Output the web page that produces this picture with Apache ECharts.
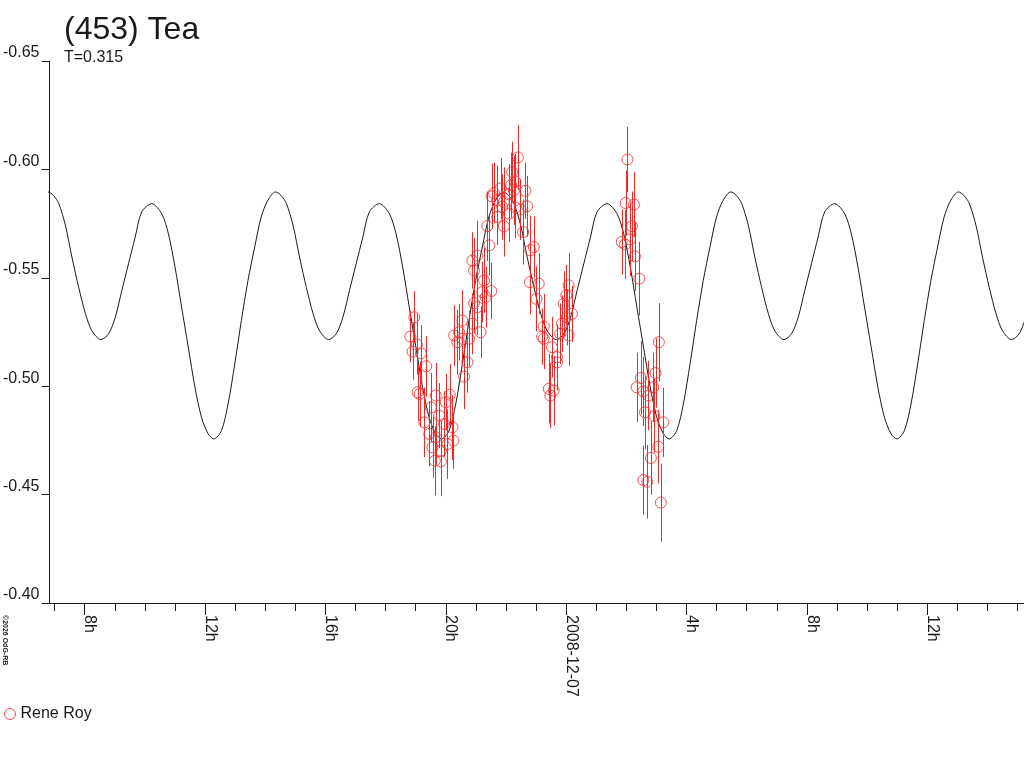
<!DOCTYPE html>
<html>
<head>
<meta charset="utf-8">
<script src="https://cdn.jsdelivr.net/npm/echarts@6/dist/echarts.min.js"></script>
<style>
html,body{margin:0;padding:0;background:#fff;}
#c{width:1024px;height:768px;}
</style>
</head>
<body>
<div id="c"></div>
<script>
// ---- data (hours from 2008-12-06 00:00 UT, relative magnitude) ----
const titleText = '(453) Tea';
const subtitleText = 'T=0.315';
const observerName = 'Rene Roy';
const xMinHour = 6.828;
const xMaxHour = 39.214;
const minorTickHours = [7,8,9,10,11,12,13,14,15,16,17,18,19,20,21,22,23,24,25,26,27,28,29,30,31,32,33,34,35,36,37,38,39];
const majorTickHours = [8,12,16,20,24,28,32,36];
const majorTickLabels = ['8h','12h','16h','20h','2008-12-07','4h','8h','12h'];
const yMin = -0.65, yMax = -0.40, yStep = 0.05;

// fitted lightcurve
const fitCurve = [
[6.477,-0.5873],[6.775,-0.5896],[6.957,-0.5880],[7.139,-0.5842],[7.361,-0.5740],[7.579,-0.5592],[7.801,-0.5455],[8.023,-0.5335],[8.241,-0.5255],[8.539,-0.5215],
[8.794,-0.5242],[9.015,-0.5318],[9.234,-0.5442],[9.455,-0.5565],[9.677,-0.5688],[9.895,-0.5804],[10.226,-0.5842],[10.557,-0.5796],
[10.779,-0.5704],[11.001,-0.5549],[11.219,-0.5365],[11.441,-0.5180],[11.663,-0.4995],[11.881,-0.4856],[12.103,-0.4780],[12.291,-0.4757],
[12.543,-0.4795],[12.764,-0.4918],[12.986,-0.5103],[13.205,-0.5303],[13.426,-0.5488],[13.648,-0.5642],[13.866,-0.5781],[14.088,-0.5858],
[14.340,-0.5896],[14.522,-0.5880],[14.704,-0.5842],[14.926,-0.5740],[15.144,-0.5592],[15.366,-0.5455],[15.588,-0.5335],[15.806,-0.5255],[16.104,-0.5215],
[16.359,-0.5242],[16.580,-0.5318],[16.799,-0.5442],[17.020,-0.5565],[17.242,-0.5688],[17.460,-0.5804],[17.791,-0.5842],[18.122,-0.5796],
[18.344,-0.5704],[18.566,-0.5549],[18.784,-0.5365],[19.006,-0.5180],[19.228,-0.4995],[19.446,-0.4856],[19.668,-0.4780],[19.856,-0.4757],
[20.108,-0.4795],[20.329,-0.4918],[20.551,-0.5103],[20.770,-0.5303],[20.991,-0.5488],[21.213,-0.5642],[21.431,-0.5781],[21.653,-0.5858],
[21.905,-0.5896],[22.087,-0.5880],[22.269,-0.5842],[22.491,-0.5740],[22.709,-0.5592],[22.931,-0.5455],[23.153,-0.5335],[23.371,-0.5255],[23.669,-0.5215],
[23.924,-0.5242],[24.145,-0.5318],[24.364,-0.5442],[24.585,-0.5565],[24.807,-0.5688],[25.025,-0.5804],[25.356,-0.5842],[25.687,-0.5796],
[25.909,-0.5704],[26.131,-0.5549],[26.349,-0.5365],[26.571,-0.5180],[26.793,-0.4995],[27.011,-0.4856],[27.233,-0.4780],[27.421,-0.4757],
[27.673,-0.4795],[27.894,-0.4918],[28.116,-0.5103],[28.335,-0.5303],[28.556,-0.5488],[28.778,-0.5642],[28.996,-0.5781],[29.218,-0.5858],
[29.470,-0.5896],[29.652,-0.5880],[29.834,-0.5842],[30.056,-0.5740],[30.274,-0.5592],[30.496,-0.5455],[30.718,-0.5335],[30.936,-0.5255],[31.234,-0.5215],
[31.489,-0.5242],[31.710,-0.5318],[31.929,-0.5442],[32.150,-0.5565],[32.372,-0.5688],[32.590,-0.5804],[32.921,-0.5842],[33.252,-0.5796],
[33.474,-0.5704],[33.696,-0.5549],[33.914,-0.5365],[34.136,-0.5180],[34.358,-0.4995],[34.576,-0.4856],[34.798,-0.4780],[34.986,-0.4757],
[35.238,-0.4795],[35.459,-0.4918],[35.681,-0.5103],[35.900,-0.5303],[36.121,-0.5488],[36.343,-0.5642],[36.561,-0.5781],[36.783,-0.5858],
[37.035,-0.5896],[37.217,-0.5880],[37.399,-0.5842],[37.621,-0.5740],[37.839,-0.5592],[38.061,-0.5455],[38.283,-0.5335],[38.501,-0.5255],[38.799,-0.5215],
[39.054,-0.5242],[39.275,-0.5318]
];

// observations: [hour, magnitude, error]
const reneRoy = [
[18.820,-0.5229,0.012],[18.896,-0.5160,0.013],[18.952,-0.5318,0.012],[19.038,-0.5192,0.014],[19.062,-0.4972,0.013],
[19.128,-0.4964,0.015],[19.171,-0.5152,0.013],[19.283,-0.4833,0.016],[19.350,-0.5092,0.014],[19.449,-0.4780,0.015],
[19.502,-0.4902,0.016],[19.558,-0.4718,0.014],[19.634,-0.4656,0.016],[19.667,-0.4957,0.015],[19.667,-0.4764,0.013],
[19.780,-0.4864,0.015],[19.833,-0.4702,0.014],[19.833,-0.4653,0.016],[19.945,-0.4826,0.015],[19.998,-0.4926,0.013],
[20.054,-0.4733,0.016],[20.130,-0.4961,0.014],[20.220,-0.4810,0.015],[20.253,-0.4749,0.013],[20.276,-0.5234,0.014],
[20.385,-0.5203,0.015],[20.441,-0.5249,0.013],[20.551,-0.5303,0.014],[20.551,-0.5219,0.012],[20.607,-0.5044,0.015],
[20.716,-0.5110,0.014],[20.772,-0.5219,0.013],[20.882,-0.5288,0.014],[20.882,-0.5580,0.013],[20.938,-0.5534,0.015],
[20.938,-0.5383,0.014],[21.047,-0.5603,0.016],[21.047,-0.5365,0.013],[21.156,-0.5249,0.012],[21.213,-0.5434,0.014],
[21.269,-0.5488,0.015],[21.322,-0.5411,0.014],[21.378,-0.5738,0.016],[21.444,-0.5650,0.014],[21.510,-0.5439,0.013],
[21.520,-0.5876,0.015],[21.600,-0.5891,0.014],[21.709,-0.5858,0.016],[21.709,-0.5781,0.013],[21.818,-0.5912,0.014],
[21.874,-0.5827,0.015],[21.930,-0.5850,0.016],[21.930,-0.5738,0.014],[22.096,-0.5885,0.014],[22.096,-0.5796,0.013],
[22.172,-0.5927,0.015],[22.205,-0.5988,0.014],[22.261,-0.5904,0.016],[22.314,-0.5942,0.013],[22.314,-0.5824,0.014],
[22.394,-0.6055,0.015],[22.480,-0.5815,0.014],[22.569,-0.5711,0.015],[22.645,-0.5901,0.013],[22.701,-0.5830,0.014],
[22.791,-0.5480,0.015],[22.810,-0.5627,0.016],[22.923,-0.5642,0.014],[23.009,-0.5403,0.015],[23.088,-0.5473,0.014],
[23.198,-0.5229,0.013],[23.254,-0.5275,0.015],[23.254,-0.5219,0.014],[23.420,-0.4988,0.016],[23.472,-0.4957,0.015],
[23.529,-0.5180,0.014],[23.585,-0.4980,0.016],[23.694,-0.5134,0.015],[23.694,-0.5110,0.013],[23.803,-0.5242,0.014],
[23.860,-0.5288,0.013],[23.916,-0.5380,0.015],[24.002,-0.5419,0.014],[24.025,-0.5318,0.013],[24.081,-0.5465,0.015],
[24.081,-0.5234,0.014],[24.191,-0.5334,0.013],
[25.845,-0.5665,0.015],[25.954,-0.5654,0.016],[25.977,-0.5845,0.015],[26.034,-0.6046,0.015],[26.120,-0.5677,0.017],
[26.186,-0.5738,0.016],[26.252,-0.5838,0.015],[26.285,-0.5599,0.016],[26.342,-0.4995,0.016],[26.431,-0.5496,0.017],
[26.484,-0.5038,0.017],[26.563,-0.4976,0.016],[26.616,-0.4879,0.017],[26.563,-0.4567,0.016],[26.696,-0.4559,0.017],
[26.729,-0.4957,0.016],[26.815,-0.4669,0.017],[26.894,-0.4995,0.016],[26.927,-0.4864,0.017],[26.970,-0.5061,0.016],
[27.060,-0.4721,0.017],[27.079,-0.5203,0.018],[27.146,-0.4463,0.018],[27.225,-0.4833,0.016]
];

// ---- chart ----
const RED = '#f02828';
const INK = '#1a1a1a';
const FONT = '"Liberation Sans", Arial, sans-serif';

const chart = echarts.init(document.getElementById('c'), null, {renderer: 'canvas'});
chart.setOption({
  animation: false,
  backgroundColor: '#ffffff',
  grid: {left: 45, top: 61, right: 0, bottom: 165, containLabel: false},
  xAxis: [
    {
      type: 'value', min: xMinHour, max: xMaxHour, position: 'bottom',
      axisLine: {show: true, onZero: false, lineStyle: {color: INK, width: 1}},
      axisTick: {show: true, length: 8, customValues: minorTickHours, lineStyle: {color: INK, width: 1}},
      axisLabel: {show: false},
      splitLine: {show: false}
    },
    {
      type: 'value', min: xMinHour, max: xMaxHour, position: 'bottom', offset: 0,
      axisLine: {show: false, onZero: false},
      axisTick: {show: true, length: 12, customValues: majorTickHours, lineStyle: {color: INK, width: 1}},
      axisLabel: {
        show: true, customValues: majorTickHours, rotate: -90, margin: 12,
        verticalAlign: 'bottom', lineHeight: 10,
        color: INK, fontFamily: FONT, fontSize: 16,
        formatter: function (v) {
          const i = majorTickHours.indexOf(Math.round(v));
          return i >= 0 ? majorTickLabels[i] : '';
        }
      },
      splitLine: {show: false}
    }
  ],
  yAxis: {
    type: 'value', min: yMin, max: yMax, interval: yStep, inverse: true,
    axisLine: {show: true, lineStyle: {color: INK, width: 1}},
    axisTick: {show: true, length: 8, lineStyle: {color: INK, width: 1}},
    axisLabel: {
      color: INK, fontFamily: FONT, fontSize: 16, margin: 10,
      verticalAlign: 'bottom', lineHeight: 16,
      formatter: function (v) { return v.toFixed(2); }
    },
    splitLine: {show: false}
  },
  legend: {
    show: true, left: -1, top: 701, orient: 'horizontal',
    itemWidth: 11, itemHeight: 11, itemGap: 10,
    textStyle: {color: INK, fontFamily: FONT, fontSize: 16},
    data: [{name: observerName, icon: 'circle',
            itemStyle: {color: 'rgba(0,0,0,0)', borderColor: RED, borderWidth: 1}}]
  },
  graphic: [
    {type: 'text', left: 64, top: 14, style: {text: titleText, font: '32px ' + FONT, fill: INK}},
    {type: 'text', left: 64, top: 50, style: {text: subtitleText, font: '16px ' + FONT, fill: INK}},
    {type: 'text', x: 8, y: 615, rotation: -Math.PI / 2,
     style: {text: '\u00A92026 OdG-RB', font: 'bold 7px ' + FONT, fill: INK, align: 'left', verticalAlign: 'top'}}
  ],
  series: [
    {
      name: 'fit', type: 'line', xAxisIndex: 0, yAxisIndex: 0,
      data: fitCurve, showSymbol: false, smooth: 0.3, clip: true,
      lineStyle: {color: INK, width: 1}, z: 2, silent: true
    },
    {
      name: 'errors', type: 'custom', xAxisIndex: 0, yAxisIndex: 0,
      data: reneRoy, encode: {x: 0, y: 1}, z: 3, silent: true,
      renderItem: function (params, api) {
        const t = api.value(0), m = api.value(1), e = api.value(2);
        const p1 = api.coord([t, m - e]);
        const p2 = api.coord([t, m + e]);
        const px = Math.round(p1[0]) + 0.5;
        return {type: 'line', shape: {x1: px, y1: p1[1], x2: px, y2: p2[1]},
                style: {stroke: RED, lineWidth: 1}};
      }
    },
    {
      name: observerName, type: 'scatter', xAxisIndex: 0, yAxisIndex: 0,
      data: reneRoy.map(function (d) { return [d[0], d[1]]; }),
      symbol: 'circle', symbolSize: 11, z: 4,
      itemStyle: {color: 'rgba(0,0,0,0)', borderColor: RED, borderWidth: 1}
    }
  ]
});
</script>
</body>
</html>
